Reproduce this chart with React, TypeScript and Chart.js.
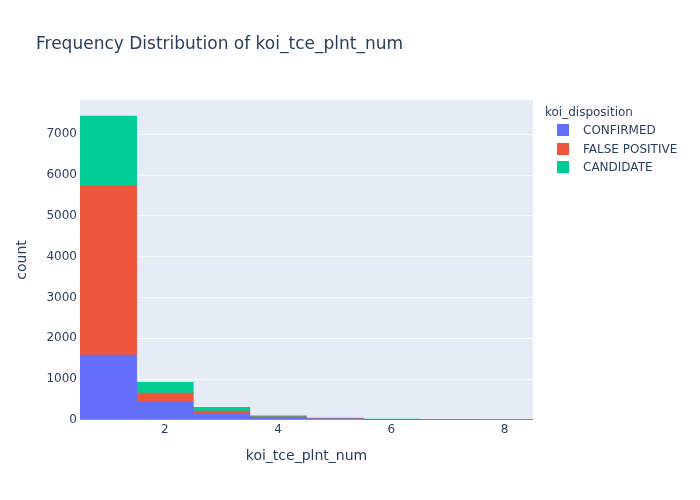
import { useEffect, useRef } from "react";
import { Chart } from "chart.js/auto";

const binCenters = [1, 2, 3, 4, 5, 6, 7, 8];
const confirmed = [1590, 445, 164, 60, 30, 10, 2, 1];
const falsePositive = [4140, 215, 56, 20, 4, 2, 1, 0];
const candidate = [1715, 260, 90, 25, 15, 8, 1, 1];
const xTicks = [2, 4, 6, 8];

const seriesNames = ["CONFIRMED", "FALSE POSITIVE", "CANDIDATE"];
const seriesColors = ["#636efa", "#EF553B", "#00cc96"];

const textColor = "#2a3f5f";
const font = "'DejaVu Sans', Verdana, sans-serif";

export default function App() {
  const chartRef = useRef<HTMLCanvasElement>(null);

  useEffect(() => {
    document.body.style.margin = "0";
    if (!chartRef.current) return;
    const ctx = chartRef.current.getContext("2d");
    if (!ctx) return;

    const toPoints = (vals: number[]) => vals.map((v, i) => ({ x: binCenters[i], y: v }));
    const series = [confirmed, falsePositive, candidate];

    // paints the plot background behind the bars
    const plotBg = {
      id: "plotBg",
      beforeDraw(chart: any) {
        const { ctx, chartArea } = chart;
        ctx.save();
        ctx.fillStyle = "#E5ECF6";
        ctx.fillRect(chartArea.left, chartArea.top, chartArea.right - chartArea.left, chartArea.bottom - chartArea.top);
        ctx.restore();
      },
    };

    const myChart = new Chart(ctx, {
      type: "bar",
      data: {
        datasets: series.map((vals, i) => ({
          label: seriesNames[i],
          data: toPoints(vals),
          backgroundColor: seriesColors[i],
          borderWidth: 0,
          barPercentage: 1,
          categoryPercentage: 1,
        })),
      },
      plugins: [plotBg],
      options: {
        animation: false,
        responsive: false,
        maintainAspectRatio: false,
        layout: { padding: { left: 0, top: 100, right: 167, bottom: 0 } },
        plugins: {
          legend: { display: false },
          tooltip: { enabled: false },
        },
        scales: {
          x: {
            type: "linear",
            stacked: true,
            offset: false,
            min: 0.5,
            max: 8.5,
            afterBuildTicks: (scale: any) => {
              scale.ticks = xTicks.map((v) => ({ value: v }));
            },
            afterFit: (scale: any) => {
              scale.height = 80;
            },
            grid: { display: false, drawTicks: false },
            border: { display: false },
            ticks: { color: textColor, font: { family: font, size: 12 }, padding: 3, maxRotation: 0 },
            title: {
              display: true,
              text: "koi_tce_plnt_num",
              color: textColor,
              font: { family: font, size: 14 },
              padding: { top: 0, bottom: 35 },
            },
          },
          y: {
            stacked: true,
            min: 0,
            max: 7837,
            afterBuildTicks: (scale: any) => {
              const t = [];
              for (let v = 0; v <= 7000; v += 1000) t.push({ value: v });
              scale.ticks = t;
            },
            afterFit: (scale: any) => {
              scale.width = 80;
            },
            grid: { color: "#ffffff", lineWidth: 1, drawTicks: false },
            border: { display: false },
            ticks: {
              color: textColor,
              font: { family: font, size: 12 },
              padding: 3,
              callback: (v: any) => String(v),
            },
            title: {
              display: true,
              text: "count",
              color: textColor,
              font: { family: font, size: 14 },
              padding: { top: 14, bottom: 14 },
            },
          },
        },
      },
    });

    return () => {
      myChart.destroy();
    };
  }, []);

  return (
    <div style={{ position: "relative", width: 700, height: 500, background: "#fff", fontFamily: font, color: textColor }}>
      <canvas ref={chartRef} width={700} height={500} style={{ position: "absolute", left: 0, top: 0, width: 700, height: 500 }} />
      <div style={{ position: "absolute", left: 36, top: 32, fontSize: 17, whiteSpace: "nowrap", lineHeight: "22px" }}>
        Frequency Distribution of koi_tce_plnt_num
      </div>
      <div style={{ position: "absolute", left: 545, top: 103, fontSize: 12, lineHeight: "18px" }}>koi_disposition</div>
      {seriesNames.map((name, i) => (
        <div
          key={name}
          style={{ position: "absolute", left: 557, top: 121 + i * 18.5, height: 18, display: "flex", alignItems: "center", fontSize: 12, whiteSpace: "nowrap" }}
        >
          <span style={{ display: "inline-block", width: 12, height: 12, background: seriesColors[i], marginRight: 14 }} />
          {name}
        </div>
      ))}
    </div>
  );
}
